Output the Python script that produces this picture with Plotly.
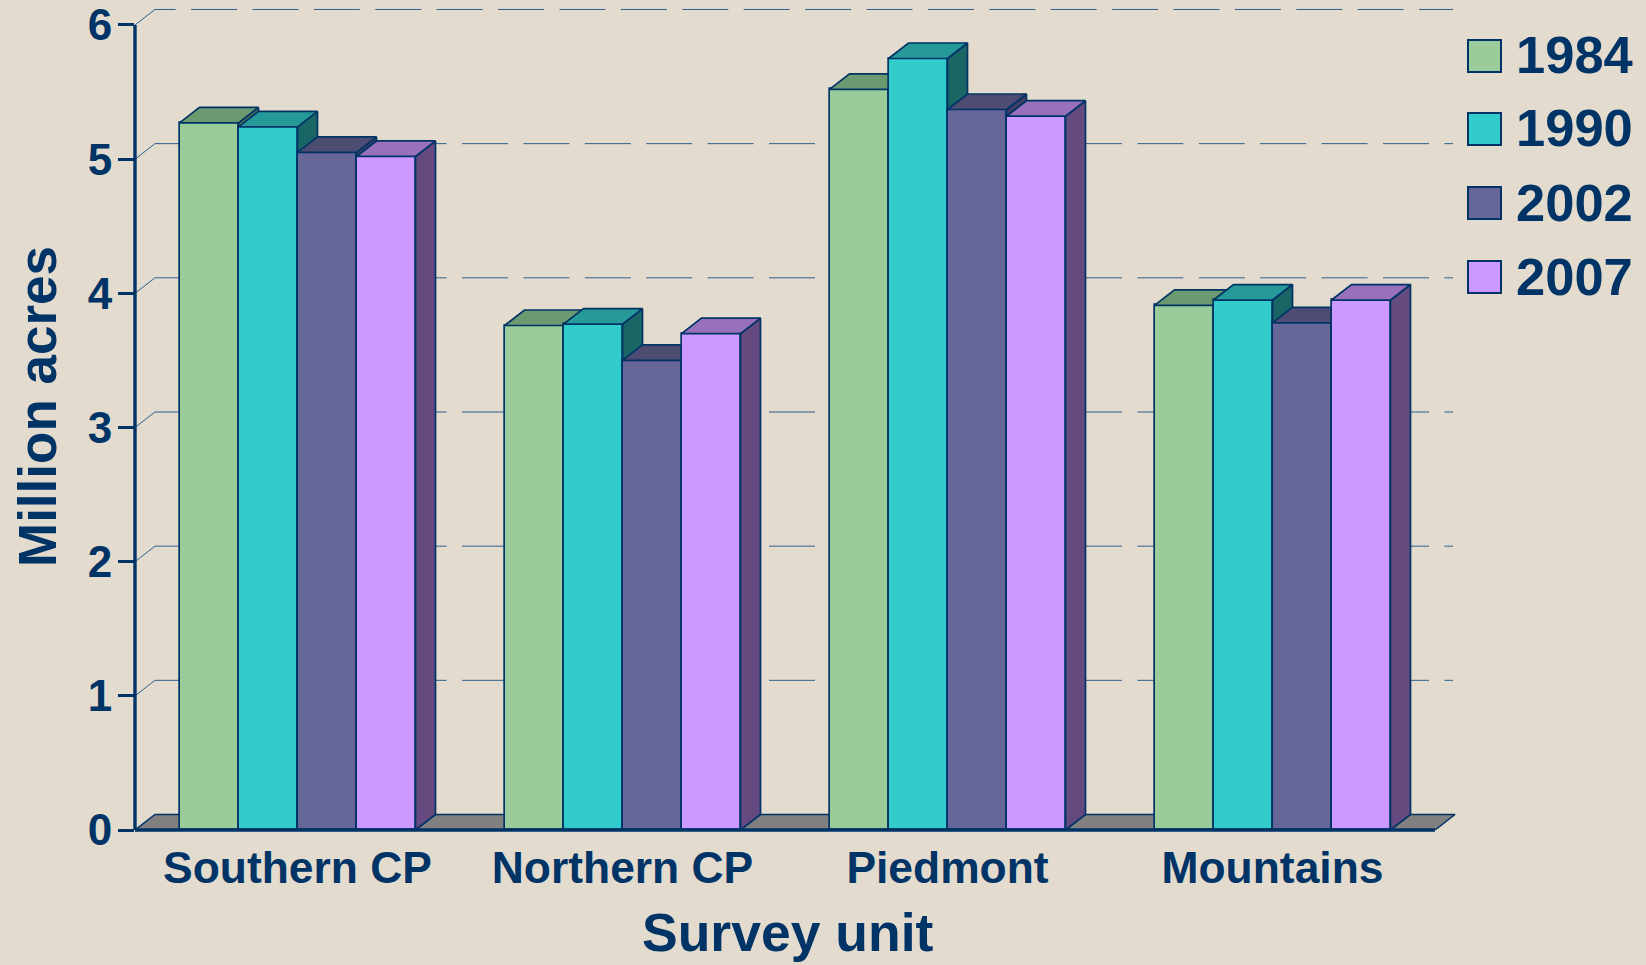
import plotly.graph_objects as go

# ---- data ----
CATEGORIES = ["Southern CP", "Northern CP", "Piedmont", "Mountains"]
YEARS = ["1984", "1990", "2002", "2007"]
V1984 = [5.27, 3.76, 5.52, 3.91]
V1990 = [5.24, 3.77, 5.75, 3.95]
V2002 = [5.05, 3.50, 5.37, 3.78]
V2007 = [5.02, 3.70, 5.32, 3.95]
SERIES = [V1984, V1990, V2002, V2007]
Y_TICKS = [0, 1, 2, 3, 4, 5, 6]

# ---- styles ----
NAVY = "#003366"
BG = "#E3DBCD"
FRONT = ["#99CC99", "#33CCCC", "#666699", "#CC99FF"]
TOP = ["#6B9A70", "#269999", "#4D4D73", "#9970BB"]
SIDE = ["#4D7A55", "#1A6666", "#3F3F66", "#654A80"]
GRID = "#2F5F8F"
FONT = "Liberation Sans, Arial, sans-serif"

W, H = 1646, 965
PLOT_L, PLOT_R, PLOT_T, PLOT_B = 135, 1460, 5, 830   # drawing area in pixels
PX_X = 325.0      # pixels per category
PX_Y = 134.17     # pixels per million acres
DX = 20 / PX_X    # oblique depth in x units
DY = 15.5 / PX_Y  # oblique depth in y units
BAR_W = 59 / PX_X
X_RANGE = [0, (PLOT_R - PLOT_L) / PX_X]
Y_RANGE = [0, (PLOT_B - PLOT_T) / PX_Y]


def px(x):
    return (x - PLOT_L) / (PLOT_R - PLOT_L)


def py(y):
    return (PLOT_B - y) / (PLOT_B - PLOT_T)


def poly(points, xs, ys):
    for p in points + [points[0]]:
        xs.append(p[0])
        ys.append(p[1])
    xs.append(None)
    ys.append(None)


fig = go.Figure()

# floor
fig.add_trace(go.Scatter(
    x=[0, DX, 4 + DX, 4, 0], y=[0, DY, DY, 0, 0], mode="lines", fill="toself",
    fillcolor="#808080", line=dict(color=NAVY, width=1.5),
    hoverinfo="skip", showlegend=False))

# back-wall grid lines
GRID_END = 4 + 18 / PX_X
for t in Y_TICKS[1:]:
    if t == 6:
        xs = [0, DX, GRID_END]
        ys = [t, t + DY, t + DY]
    else:
        fig.add_trace(go.Scatter(
            x=[0, DX], y=[t, t + DY], mode="lines", line=dict(color=GRID, width=1),
            hoverinfo="skip", showlegend=False))
        xs = [DX, GRID_END]
        ys = [t + DY, t + DY]
    fig.add_trace(go.Scatter(
        x=xs, y=ys, mode="lines", line=dict(color=GRID, width=1, dash="46px,15.4px"),
        hoverinfo="skip", showlegend=False))

# bars: each series lives on its own overlaid axes so it paints over the previous one
for i, (year, vals) in enumerate(zip(YEARS, SERIES)):
    ax = str(i + 2)
    centres = [g + 0.5 + (i - 1.5) * BAR_W for g in range(4)]
    tx, ty, sx, sy = [], [], [], []
    for c, v in zip(centres, vals):
        l, r = c - BAR_W / 2, c + BAR_W / 2
        poly([(l, v), (l + DX, v + DY), (r + DX, v + DY), (r, v)], tx, ty)
        poly([(r, v), (r + DX, v + DY), (r + DX, DY), (r, 0)], sx, sy)
    for xs, ys, col in ((sx, sy, SIDE[i]), (tx, ty, TOP[i])):
        fig.add_trace(go.Scatter(
            x=xs, y=ys, mode="lines", fill="toself", fillcolor=col,
            line=dict(color=NAVY, width=1.7),
            xaxis="x" + ax, yaxis="y" + ax, hoverinfo="skip", showlegend=False))
    fig.add_trace(go.Bar(
        x=centres, y=vals, width=BAR_W, name=year, marker=dict(
            color=FRONT[i], line=dict(color=NAVY, width=1.7)),
        xaxis="x" + ax, yaxis="y" + ax, showlegend=False))

layout = dict(
    width=W, height=H, autosize=False,
    margin=dict(l=PLOT_L, r=W - PLOT_R, t=PLOT_T, b=H - PLOT_B, pad=0, autoexpand=False),
    paper_bgcolor=BG, plot_bgcolor="rgba(0,0,0,0)",
    font=dict(family=FONT, color=NAVY, size=44, weight="bold"),
    xaxis=dict(range=X_RANGE, automargin=False, tickmode="array",
               tickvals=[0.5, 1.5, 2.5, 3.5], ticktext=CATEGORIES, ticks="",
               showgrid=False, zeroline=False, showline=False,
               tickfont=dict(size=44.4, family=FONT, color=NAVY, weight="bold"),
               ticklabelstandoff=8),
    yaxis=dict(range=Y_RANGE, automargin=False, tickmode="array", tickvals=Y_TICKS,
               ticks="outside", ticklen=16, tickwidth=3, tickcolor=NAVY,
               showgrid=False, zeroline=False, showline=False, ticklabelstandoff=-3,
               tickfont=dict(size=44, family=FONT, color=NAVY, weight="bold")),
    showlegend=False,
    bargap=0,
)
for i in range(2, 6):
    layout[f"xaxis{i}"] = dict(range=X_RANGE, overlaying="x", visible=False, fixedrange=True)
    layout[f"yaxis{i}"] = dict(range=Y_RANGE, overlaying="y", visible=False, fixedrange=True)

# axis lines stop at the last value, short of the depth region
shapes = [
    dict(type="line", xref="paper", yref="paper", x0=0, x1=0, y0=0, y1=Y_TICKS[-1] / Y_RANGE[1],
         line=dict(color=NAVY, width=3.4), layer="above"),
    dict(type="line", xref="paper", yref="paper", x0=0, x1=4 / X_RANGE[1], y0=0, y1=0,
         line=dict(color=NAVY, width=3.4), layer="above"),
]
annotations = [
    dict(text="Million acres", textangle=-90, xref="paper", yref="paper",
         x=px(37), y=py(407), xanchor="center", yanchor="middle", showarrow=False,
         font=dict(size=53, family=FONT, color=NAVY, weight="bold")),
    dict(text="Survey unit", xref="paper", yref="paper",
         x=px(788), y=py(933), xanchor="center", yanchor="middle", showarrow=False,
         font=dict(size=53.5, family=FONT, color=NAVY, weight="bold")),
]
LEG_TOP = [40, 113, 187, 261]
for year, col, top in zip(YEARS, FRONT, LEG_TOP):
    shapes.append(dict(type="rect", xref="paper", yref="paper",
                       x0=px(1468), x1=px(1501), y0=py(top), y1=py(top + 32),
                       fillcolor=col, line=dict(color=NAVY, width=2)))
    annotations.append(dict(
        text=year, xref="paper", yref="paper", x=px(1514), y=py(top + 15),
        xanchor="left", yanchor="middle", showarrow=False,
        font=dict(size=52.5, family=FONT, color=NAVY, weight="bold")))
layout["annotations"] = annotations
layout["shapes"] = shapes
fig.update_layout(**layout)

fig.write_html("out.html", config=dict(displayModeBar=False),
               post_script="document.body.style.margin='0';document.body.style.background='%s';" % BG)
